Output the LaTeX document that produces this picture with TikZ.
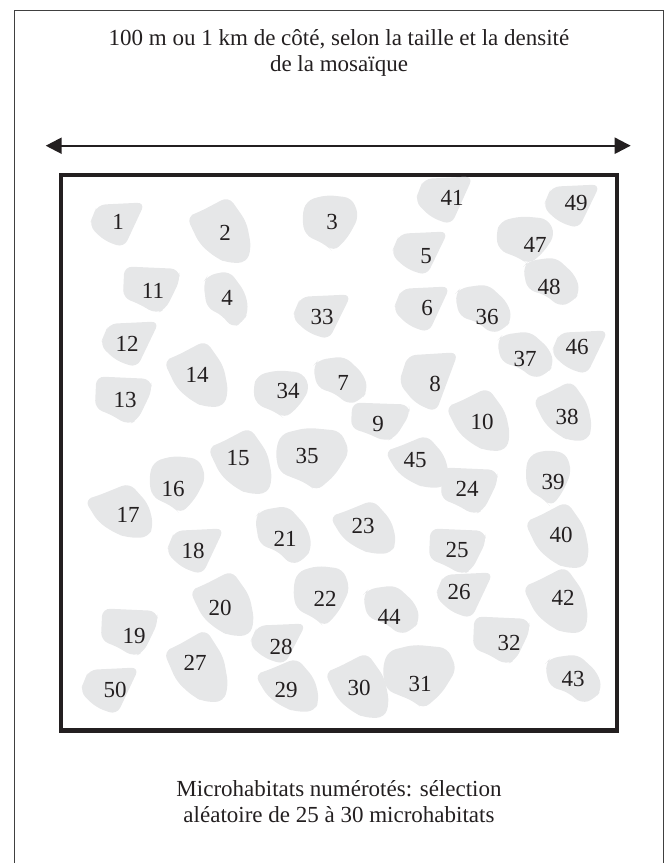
\documentclass[tikz,border=0pt]{standalone}
\usepackage{fontspec}
\setmainfont{Liberation Serif}
\usetikzlibrary{arrows.meta}

\definecolor{grismh}{HTML}{E6E7E8}
\definecolor{encre}{HTML}{231F20}

% --- Gabarits des taches (demi-largeur / demi-hauteur, y vers le bas) ---
\def\shpA{(-0.7,-0.85) -- (1,-0.95) -- (0.25,1) -- (-0.45,0.7) -- (-1,0.05) -- (-0.85,-0.4) -- cycle}
\def\shpB{(-1,-0.4) -- (-0.6,-0.55) -- (0.3,-1) -- (0.85,-0.25) -- (1,0.5) -- (0.85,0.95) -- (0.25,0.95) -- (-0.1,0.8) -- (-0.6,0.4) -- cycle}
\def\shpC{(-0.85,-0.8) -- (-0.15,-1) -- (0.75,-0.9) -- (1,-0.25) -- (0.6,0.5) -- (0.1,1) -- (-0.15,0.75) -- (-0.9,0.4) -- (-1,-0.25) -- cycle}
\def\shpD{(-0.8,-0.85) -- (0.15,-1) -- (0.85,-0.25) -- (1,0.4) -- (0.75,0.8) -- (0.25,1) -- (-0.15,0.55) -- (-0.85,0.3) -- (-1,-0.6) -- cycle}
\def\shpE{(-0.95,-0.95) -- (0.95,-0.85) -- (1,-0.4) -- (0.5,0.8) -- (0.15,1) -- (-0.5,0.55) -- (-1,0.35) -- cycle}

\begin{document}
\begin{tikzpicture}[x=1pt, y=-1pt, >={Triangle[length=16pt,width=16pt]},
    font=\fontsize{23}{26}\selectfont,
    tache/.style={fill=grismh, rounded corners=8pt},
    num/.style={inner sep=0pt, text=encre},
    legende/.style={align=center, anchor=base, inner sep=0pt, text=encre},
    cadre/.style={draw=encre, line width=4.5pt},
    bord/.style={draw=black!75, line width=1pt}]

    \useasboundingbox (0,0) rectangle (669,863);

    % --- Bord exterieur (ouvert en bas) ---
    \draw[bord] (14.7,863) |- (663,10.7) -- (663,863);

    % --- Titre et fleche de dimension ---
    \node[legende] (titre) at (339,71)
        {100 m ou 1 km de côté, selon la taille et la densité\\de la mosaïque};
    \coordinate (ouest) at (45.7,145.7);
    \coordinate (est) at (630.7,145.7);
    \draw[<->, draw=encre, line width=2.2pt] (ouest) -- (est);

    % --- Mosaique ---
    \draw[cadre] (61,175) rectangle (617,730.5);

    % --- Microhabitats: numero / boite de la tache / gabarit / position du numero ---
    \foreach \n/\xa/\xb/\ya/\yb/\t/\lx/\ly in {
        1/91/143/203/246/A/118/222,
        2/189/249/199/262/B/225/233,
        3/304/357/197/250/C/332/222,
        4/205/247/273/326/D/227/298,
        5/393/446/232/274/A/426/256,
        6/395/448/287/331/A/427/308,
        7/315/366/358/403/D/343/383,
        8/401/456/353/410/A/435/384,
        9/353/408/403/440/E/378/424,
        10/448/508/390/450/B/482/422,
        11/125/178/267/312/E/153/291,
        12/102/157/322/366/A/127/344,
        13/97/150/377/423/E/125/400,
        14/166/226/343/406/B/197/375,
        15/210/270/430/493/B/238/458,
        16/151/204/458/512/C/173/489,
        17/87/151/485/537/B/128/515,
        18/168/222/529/573/A/193/551,
        19/103/156/609/655/E/134/636,
        20/192/252/573/635/B/220/608,
        21/257/310/508/563/D/285/539,
        22/295/348/568/625/C/325/599,
        23/332/394/502/553/B/363/526,
        24/443/496/468/513/E/467/489,
        25/431/484/529/573/E/457/550,
        26/437/491/573/617/A/459/592,
        27/166/226/632/701/B/195/663,
        28/251/304/624/663/A/281/647,
        29/257/317/660/711/B/286/690,
        30/327/387/655/717/B/359/688,
        31/385/454/647/707/C/420/684,
        32/475/528/617/663/E/509/643,
        33/294/349/295/338/A/322/317,
        34/255/308/372/417/C/288/391,
        35/278/347/430/489/C/307/456,
        36/457/510/286/332/D/487/317,
        37/499/552/333/377/D/525/359,
        38/535/590/383/440/B/567/417,
        39/527/570/452/505/C/553/482,
        40/527/587/504/567/B/561/535,
        41/417/471/177/223/A/452/198,
        42/525/586/569/632/B/563/598,
        43/547/600/656/702/D/573/679,
        44/365/418/587/633/D/389/617,
        45/387/447/437/487/B/415/460,
        46/553/606/331/373/A/577/347,
        47/498/553/218/263/C/535/245,
        48/525/578/259/305/D/549/287,
        49/545/598/185/227/A/576/203,
        50/82/137/668/713/A/115/690
    } {
        \pgfmathsetmacro\cx{(\xa+\xb)/2}
        \pgfmathsetmacro\cy{(\ya+\yb)/2}
        \pgfmathsetmacro\hw{(\xb-\xa)*0.54}
        \pgfmathsetmacro\hh{(\yb-\ya)*0.54}
        \begin{scope}[shift={(\cx,\cy)}, xscale=\hw, yscale=\hh]
            \fill[tache] \csname shp\t\endcsname;
        \end{scope}
        \node[num] (n\n) at (\lx,\ly) {\n};
    }

    % --- Legende ---
    \node[legende] (bas) at (339,822)
        {Microhabitats numérotés: sélection\\aléatoire de 25 à 30 microhabitats};

\end{tikzpicture}
\end{document}
